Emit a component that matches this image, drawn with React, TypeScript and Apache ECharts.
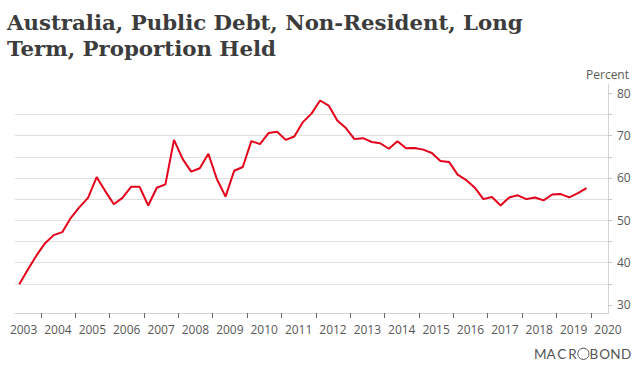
import React, { useEffect, useRef } from "react";
import * as echarts from "echarts";

const titleText = "Australia, Public Debt, Non-Resident, Long\nTerm, Proportion Held";
const unitLabel = "Percent";

// Quarterly observations, 2003Q2 .. 2019Q4
const firstYear = 2003;
const firstQuarter = 2;
const values: number[] = [
  34.9, 38.4, 41.7,
  44.6, 46.5, 47.2, 50.6,
  53.1, 55.3, 60.2, 56.9,
  53.8, 55.3, 57.9, 57.9,
  53.5, 57.7, 58.5, 69.0,
  64.5, 61.5, 62.3, 65.7,
  59.7, 55.6, 61.7, 62.6,
  68.7, 68.0, 70.6, 70.9,
  69.0, 69.8, 73.2, 75.2,
  78.3, 77.1, 73.6, 71.8,
  69.2, 69.4, 68.5, 68.2,
  66.9, 68.7, 67.0, 67.1,
  66.7, 65.9, 64.0, 63.8,
  60.8, 59.5, 57.7, 55.0,
  55.5, 53.5, 55.4, 55.9,
  55.0, 55.4, 54.7, 56.1,
  56.2, 55.4, 56.4, 57.6,
];

const yearTicks: number[] = [2004, 2005, 2006, 2007, 2008, 2009, 2010, 2011, 2012, 2013, 2014, 2015, 2016, 2017, 2018, 2019, 2020];
const yearLabels: number[] = [2003, 2004, 2005, 2006, 2007, 2008, 2009, 2010, 2011, 2012, 2013, 2014, 2015, 2016, 2017, 2018, 2019, 2020];
const yTicks: number[] = [30, 35, 40, 45, 50, 55, 60, 65, 70, 75, 80];
const yLabels: number[] = [30, 40, 50, 60, 70, 80];
const logoLetters: string[] = ["M", "A", "C", "R", "", "B", "O", "N", "D"];

export default function App() {
  const ref = useRef<HTMLDivElement>(null);
  useEffect(() => {
    if (!ref.current) return;
    const chart = echarts.init(ref.current, undefined, { renderer: "svg" });
    const points = values.map((v, i) => {
      const qIndex = firstQuarter - 1 + i;
      const year = firstYear + Math.floor(qIndex / 4);
      const q = (qIndex % 4) + 1;
      return [year + (q - 0.5) / 4, v];
    });

    const logoStartX = 535;
    const logoStep = 10.75;
    const logoElems: any[] = logoLetters.map((ch, i) =>
      ch
        ? {
            type: "text",
            x: logoStartX + logoStep * i + 5.2,
            y: 354,
            style: {
              text: ch,
              fontFamily: "Lato",
              fontSize: 13.5,
              fill: "#555555",
              textAlign: "center",
              textVerticalAlign: "middle",
            },
          }
        : {
            type: "circle",
            shape: { cx: logoStartX + logoStep * i + 5.4, cy: 353.8, r: 5.6 },
            style: { fill: "none", stroke: "#555555", lineWidth: 1 },
          }
    );

    chart.setOption({
      animation: false,
      backgroundColor: "#ffffff",
      title: {
        text: titleText,
        left: 7,
        top: 9,
        padding: 0,
        textStyle: {
          fontFamily: "DejaVu Serif",
          fontWeight: "bold",
          fontSize: 21.3,
          lineHeight: 26,
          color: "#3c3c3c",
        },
      },
      grid: { left: 15, right: 31, top: 84, bottom: 58, containLabel: false, outerBoundsMode: "none" },
      xAxis: {
        type: "value",
        min: 2003.25,
        max: 2020.5,
        splitLine: { show: false },
        axisLine: { show: true, lineStyle: { color: "#d4d4d4", width: 1 } },
        axisTick: { show: true, customValues: yearTicks, length: 5, lineStyle: { color: "#666666" } },
        axisLabel: {
          customValues: yearLabels.map((y) => y + 0.5),
          formatter: (v: number) => String(Math.floor(v)),
          margin: 10,
          color: "#595959",
          fontFamily: "Open Sans",
          fontSize: 12,
        },
      },
      yAxis: {
        type: "value",
        position: "right",
        min: 28.1,
        max: 82.2,
        splitNumber: 10,
        axisLine: { show: true, lineStyle: { color: "#d4d4d4", width: 1 } },
        axisTick: { show: true, customValues: yTicks, length: 4, lineStyle: { color: "#c8c8c8" } },
        axisLabel: {
          customValues: yLabels,
          margin: 9,
          color: "#595959",
          fontFamily: "Open Sans",
          fontSize: 12,
        },
        splitLine: { show: true, showMinLine: false, showMaxLine: false, lineStyle: { color: "#e0e0e0", width: 1 } },
      },
      graphic: [
        {
          type: "text",
          x: 629,
          y: 74,
          style: {
            text: unitLabel,
            fontFamily: "Open Sans",
            fontSize: 12,
            fill: "#595959",
            textAlign: "right",
            textVerticalAlign: "middle",
          },
        },
        ...logoElems,
      ],
      series: [
        {
          type: "line",
          data: points,
          showSymbol: false,
          symbol: "none",
          lineStyle: { color: "#e3001b", width: 2 },
          itemStyle: { color: "#e3001b" },
        },
      ],
    });
    return () => chart.dispose();
  }, []);
  return <div ref={ref} style={{ position: "absolute", left: 0, top: 0, width: 639, height: 371 }} />;
}
